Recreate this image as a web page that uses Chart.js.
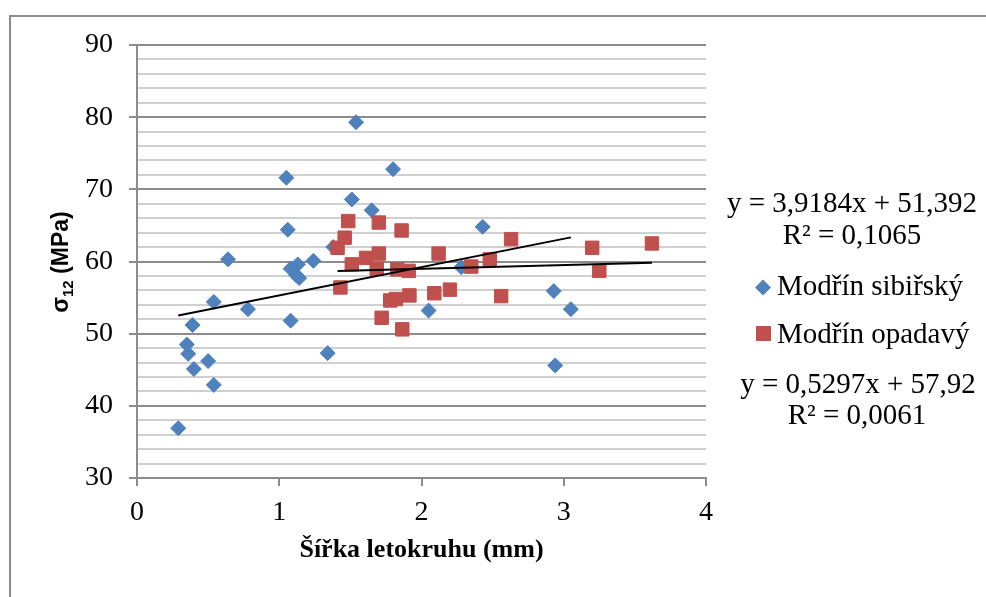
<!DOCTYPE html>
<html>
<head>
<meta charset="utf-8">
<script src="https://cdn.jsdelivr.net/npm/chart.js@4.4.0/dist/chart.umd.min.js"></script>
<style>
  html, body { margin: 0; padding: 0; background: #fff; overflow: hidden; }
  #wrap { position: relative; width: 986px; height: 597px; }
  #frame { position: absolute; left: 9px; top: 15px; width: 1000px; height: 600px; border: 2px solid #8c8c8c; box-sizing: border-box; }
  canvas { position: absolute; left: 0; top: 0; }
</style>
</head>
<body>
<div id="wrap">
  <div id="frame"></div>
  <canvas id="sigmaChart" width="986" height="597"></canvas>
</div>
<script>
// Modřín sibiřský
const sibX = [0.29, 0.35, 0.36, 0.39, 0.40, 0.50, 0.54, 0.54, 0.64, 0.78, 1.05, 1.06, 1.08, 1.08, 1.12,
              1.13, 1.14, 1.24, 1.34, 1.38, 1.51, 1.54, 1.65, 1.80, 2.05, 2.28, 2.43, 2.93, 2.94, 3.05];
const sibY = [36.9, 48.5, 47.2, 51.2, 45.1, 46.2, 42.9, 54.4, 60.3, 53.4, 71.6, 64.4, 51.8, 59.0, 58.1,
              59.6, 57.7, 60.1, 47.3, 62.0, 68.6, 79.3, 67.1, 72.8, 53.2, 59.2, 64.8, 55.9, 45.6, 53.4];

// Modřín opadavý
const opaX = [1.41, 1.43, 1.46, 1.485, 1.51, 1.61, 1.685, 1.70, 1.70, 1.72, 1.78, 1.82, 1.83, 1.86,
              1.865, 1.91, 1.915, 2.09, 2.12, 2.20, 2.35, 2.48, 2.56, 2.63, 3.20, 3.25, 3.62];
const opaY = [61.9, 56.4, 63.3, 65.6, 59.6, 60.5, 59.0, 61.1, 65.4, 52.2, 54.6, 54.8, 58.9, 64.3,
              50.6, 58.7, 55.3, 55.6, 61.1, 56.1, 59.3, 60.3, 55.2, 63.1, 61.9, 58.7, 62.5];

const seriesNames = ["Modřín sibiřský", "Modřín opadavý"];
const slopes = [3.9184, 0.5297];
const intercepts = [51.392, 57.92];
const rSquared = [0.1065, 0.0061];

const xTicks = [0, 1, 2, 3, 4];
const yMin = 30, yMax = 90, yMinorStep = 2, yMajorStep = 10;

const BLUE = "#4f81bd";
const RED = "#c0504d";
const AXIS = "#8c8c8c";
const MINOR = "#d0d0d0";
const SERIF = "'Liberation Serif', 'Times New Roman', serif";

function toPoints(xs, ys) {
    return xs.map((x, i) => ({ x: x, y: ys[i] }));
}

function trend(xs, k) {
    const lo = Math.min(...xs), hi = Math.max(...xs);
    return [
        { x: lo, y: slopes[k] * lo + intercepts[k] },
        { x: hi, y: slopes[k] * hi + intercepts[k] },
    ];
}

function cz(n) {
    return String(n).replace(".", ",");
}

const sideText = {
    id: "sideText",
    afterDraw(chart) {
        const ctx = chart.ctx;
        ctx.save();
        ctx.fillStyle = "#000";
        ctx.textBaseline = "alphabetic";

        // equations + legend on the right
        ctx.font = "29px " + SERIF;
        ctx.textAlign = "center";
        ctx.fillText("y = " + cz(slopes[0]) + "x + " + cz(intercepts[0]), 852, 212);
        ctx.fillText("R² = " + cz(rSquared[0]), 852, 244);
        ctx.fillText("y = " + cz(slopes[1]) + "x + " + cz(intercepts[1]), 858, 393);
        ctx.fillText("R² = " + cz(rSquared[1]), 857, 424);

        ctx.textAlign = "left";
        ctx.fillText(seriesNames[0], 777, 295);
        ctx.fillText(seriesNames[1], 777, 343);

        ctx.fillStyle = BLUE;
        ctx.beginPath();
        ctx.moveTo(763, 279.5);
        ctx.lineTo(771, 287.5);
        ctx.lineTo(763, 295.5);
        ctx.lineTo(755, 287.5);
        ctx.closePath();
        ctx.fill();
        ctx.fillStyle = RED;
        ctx.fillRect(756, 326, 15, 15);

        // y axis title with subscript
        ctx.fillStyle = "#000";
        ctx.translate(68, 262);
        ctx.rotate(-Math.PI / 2);
        const big = "bold 23px 'Liberation Sans', Arial, sans-serif";
        const small = "bold 15px 'Liberation Sans', Arial, sans-serif";
        ctx.font = big;
        const w1 = ctx.measureText("σ").width;
        const w3 = ctx.measureText(" (MPa)").width;
        ctx.font = small;
        const w2 = ctx.measureText("12").width;
        let x = -(w1 + w2 + w3) / 2;
        ctx.font = big;
        ctx.fillText("σ", x, 0);
        x += w1;
        ctx.font = small;
        ctx.fillText("12", x, 5);
        x += w2;
        ctx.font = big;
        ctx.fillText(" (MPa)", x, 0);
        ctx.restore();
    },
};

new Chart(document.getElementById("sigmaChart"), {
    type: "scatter",
    data: {
        datasets: [
            {
                type: "line",
                data: trend(sibX, 0),
                borderColor: "#000",
                borderWidth: 2,
                pointRadius: 0,
                order: 0,
            },
            {
                type: "line",
                data: trend(opaX, 1),
                borderColor: "#000",
                borderWidth: 2,
                pointRadius: 0,
                order: 0,
            },
            {
                label: seriesNames[1],
                data: toPoints(opaX, opaY),
                pointStyle: "rect",
                pointRadius: 9.5,
                backgroundColor: RED,
                borderColor: RED,
                borderWidth: 1,
                order: 1,
            },
            {
                label: seriesNames[0],
                data: toPoints(sibX, sibY),
                pointStyle: "rectRot",
                pointRadius: 7.5,
                backgroundColor: BLUE,
                borderColor: BLUE,
                borderWidth: 1,
                order: 2,
            },
        ],
    },
    options: {
        responsive: false,
        animation: false,
        layout: { padding: { top: 45, right: 280, bottom: 0, left: 0 } },
        plugins: {
            legend: { display: false },
            tooltip: { enabled: false },
        },
        scales: {
            x: {
                type: "linear",
                min: xTicks[0],
                max: xTicks[xTicks.length - 1],
                afterBuildTicks: (scale) => { scale.ticks = xTicks.map((v) => ({ value: v })); },
                afterFit: (scale) => { scale.height = 119; },
                ticks: {
                    color: "#000",
                    font: { family: SERIF, size: 28 },
                    padding: 10,
                    maxRotation: 0,
                },
                grid: {
                    drawOnChartArea: false,
                    drawTicks: true,
                    tickLength: 8,
                    tickColor: AXIS,
                    lineWidth: 2,
                },
                border: { color: AXIS, width: 2 },
                title: {
                    display: true,
                    text: "Šířka letokruhu (mm)",
                    color: "#000",
                    font: { family: SERIF, size: 26, weight: "bold" },
                    padding: { top: 0, bottom: 31 },
                },
            },
            y: {
                min: yMin,
                max: yMax,
                afterFit: (scale) => { scale.width = 137; },
                ticks: {
                    stepSize: yMinorStep,
                    autoSkip: false,
                    color: "#000",
                    font: { family: SERIF, size: 28 },
                    padding: 16,
                    callback: (v) => (Math.round(v) % yMajorStep === 0 ? String(Math.round(v)) : ""),
                },
                grid: {
                    lineWidth: 2,
                    tickLength: 8,
                    color: (c) => (Math.round(c.tick.value) % yMajorStep === 0 ? AXIS : MINOR),
                    tickColor: (c) => (Math.round(c.tick.value) % yMajorStep === 0 ? AXIS : "rgba(0,0,0,0)"),
                },
                border: { color: AXIS, width: 2 },
            },
        },
    },
    plugins: [sideText],
});
</script>
</body>
</html>
